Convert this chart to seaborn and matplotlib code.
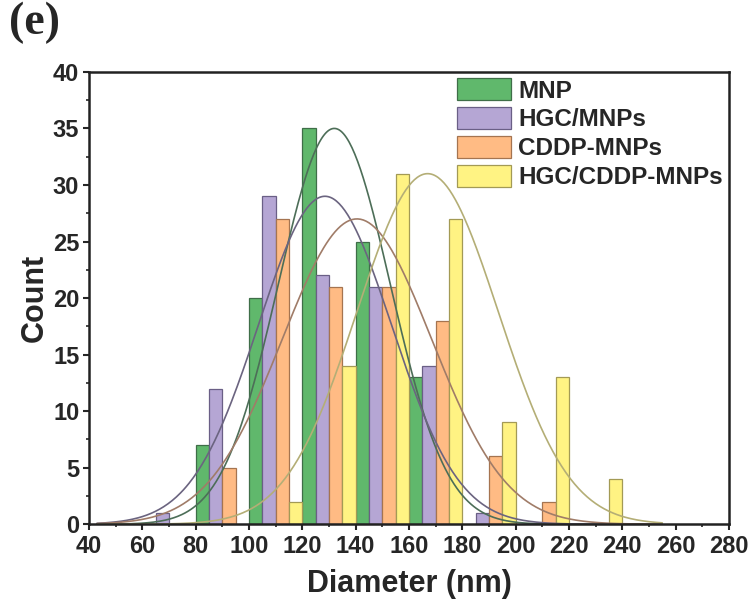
import numpy as np
import pandas as pd
import matplotlib
matplotlib.use("Agg")
import matplotlib.pyplot as plt
import seaborn as sns
from matplotlib.patches import Patch
from matplotlib.ticker import MultipleLocator

# ---- data ----
series = ["MNP", "HGC/MNPs", "CDDP-MNPs", "HGC/CDDP-MNPs"]
bin_starts = [60, 80, 100, 120, 140, 160, 180, 200, 220]   # 20 nm bins
mnp_counts      = [0, 7, 20, 35, 25, 13, 0, 0, 0]
hgc_mnp_counts  = [1, 12, 29, 22, 21, 14, 1, 0, 0]
cddp_counts     = [0, 5, 27, 21, 21, 18, 6, 2, 0]
hgc_cddp_counts = [0, 0, 2, 14, 31, 27, 9, 13, 4]
# Gaussian fit parameters
fit_center = [132.0, 128.5, 140.5, 167.0]
fit_peak   = [35.0, 29.0, 27.0, 31.0]
fit_sigma  = [21.0, 25.0, 28.0, 26.5]

counts = [mnp_counts, hgc_mnp_counts, cddp_counts, hgc_cddp_counts]
fills = ["#60b86c", "#b5a6d4", "#ffbb84", "#fff383"]
edges = ["#3f6e48", "#6a5f86", "#a57450", "#a39a55"]
curve_colors = ["#4d6e58", "#6b6480", "#a07c68", "#b4ae76"]

sns.set_style("white")
plt.rcParams["font.family"] = ["Liberation Sans", "DejaVu Sans"]
plt.rcParams["font.weight"] = "bold"

fig = plt.figure(figsize=(7.53, 6.04), dpi=100)
ax = fig.add_axes([0.1182, 0.132, 0.8498, 0.749])

slot = 5
for i, name in enumerate(series):
    df = pd.DataFrame({
        "x": [b + i * slot + slot / 2 for b in bin_starts],
        "w": counts[i],
    })
    df = df[df["w"] > 0]
    sns.histplot(data=df, x="x", weights="w", binwidth=slot, binrange=(40, 280),
                 ax=ax, color=fills[i], edgecolor=edges[i], linewidth=0.9,
                 alpha=1.0, stat="count")

for p in ax.patches:
    if p.get_height() == 0:
        p.set_visible(False)

xs = np.linspace(43, 255, 400)
for i, name in enumerate(series):
    ys = fit_peak[i] * np.exp(-(xs - fit_center[i]) ** 2 / (2 * fit_sigma[i] ** 2))
    sns.lineplot(x=xs, y=ys, ax=ax, color=curve_colors[i], linewidth=1.2)

ax.set_xlim(40, 280)
ax.set_ylim(0, 40)
ax.xaxis.set_major_locator(MultipleLocator(20))
ax.xaxis.set_minor_locator(MultipleLocator(10))
ax.yaxis.set_major_locator(MultipleLocator(5))
ax.yaxis.set_minor_locator(MultipleLocator(2.5))
ax.tick_params(axis="both", which="major", direction="out", length=4, width=1.5,
               labelsize=17, bottom=True, left=True, top=False, right=False)
ax.tick_params(axis="x", which="major", pad=4)
ax.tick_params(axis="y", which="major", pad=3)
ax.tick_params(axis="both", which="minor", direction="out", length=2.5, width=1.2,
               bottom=True, left=True, top=False, right=False)
for lab in ax.get_xticklabels() + ax.get_yticklabels():
    lab.set_fontweight("bold")
for s in ax.spines.values():
    s.set_linewidth(1.8)
    s.set_color("#222222")

ax.set_xlabel("Diameter (nm)", fontsize=22, fontweight="bold", labelpad=8)
ax.set_ylabel("Count", fontsize=22, fontweight="bold", labelpad=2)

handles = [Patch(facecolor=fills[i], edgecolor=edges[i], linewidth=0.9) for i in range(4)]
leg = ax.legend(handles, series, loc="upper right", bbox_to_anchor=(1.0, 1.0),
                frameon=False, fontsize=17.5, handlelength=2.2, handleheight=1.05,
                handletextpad=0.3, labelspacing=0.18, borderaxespad=0.1,
                borderpad=0.15)
for t in leg.get_texts():
    t.set_fontweight("bold")

fig.text(0.012, 0.997, "(e)", fontsize=33, fontweight="bold", va="top",
         family=["Liberation Serif", "DejaVu Serif"])

fig.savefig("out.png", dpi=100)
